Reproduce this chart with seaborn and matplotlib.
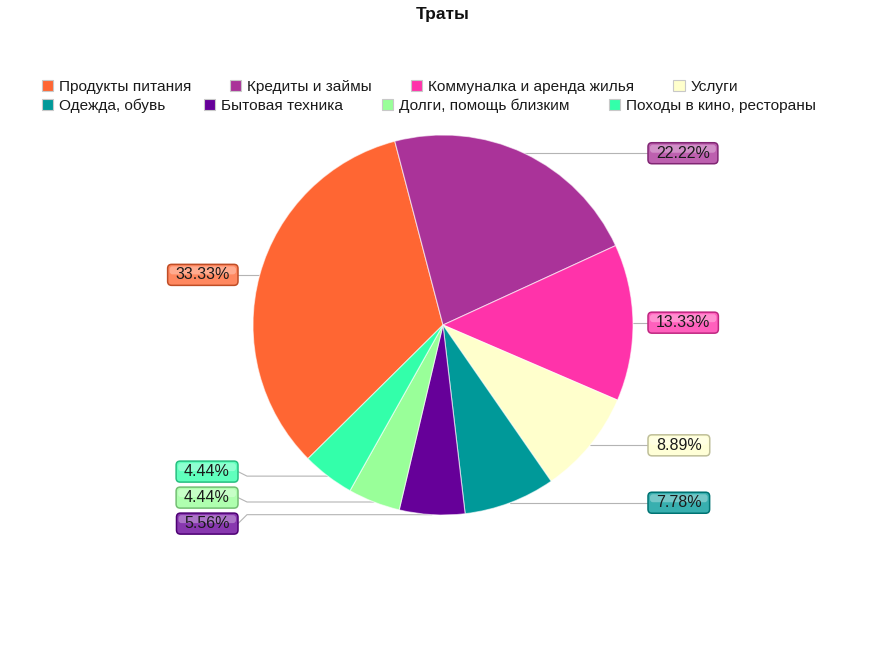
import numpy as np
import matplotlib
matplotlib.use("Agg")
import matplotlib.pyplot as plt
import matplotlib.colors as mcolors
from matplotlib.patches import Patch, FancyBboxPatch
import seaborn as sns

# ---- data ----
categories = ["Продукты питания", "Кредиты и займы", "Коммуналка и аренда жилья", "Услуги",
              "Одежда, обувь", "Бытовая техника", "Долги, помощь близким", "Походы в кино, рестораны"]
values = [33.33, 22.22, 13.33, 8.89, 7.78, 5.56, 4.44, 4.44]
colors = ["#FF6633", "#AA3399", "#FF33AA", "#FFFFCC", "#009999", "#660099", "#99FF99", "#33FFAA"]
title = "Траты"

sns.set_theme(style="white")
plt.rcParams["font.family"] = ["Liberation Sans", "DejaVu Sans"]

W, H = 885, 650
fig = plt.figure(figsize=(W / 100, H / 100), dpi=100)
ax = fig.add_axes([0, 0, 1, 1])
palette = sns.color_palette(colors)

cx, cy, R = 443, 325, 190
start = 224.7
wedges, _ = ax.pie(values, colors=palette, startangle=start, counterclock=False,
                   radius=R, center=(cx, cy),
                   wedgeprops=dict(edgecolor=(1, 1, 1, 0.6), linewidth=0.8))
ax.set_xlim(0, W)
ax.set_ylim(0, H)
ax.set_aspect("equal")
ax.axis("off")

# ---- labels ----
def mix(c, w, t):
    c = np.array(mcolors.to_rgb(c))
    return tuple(c * (1 - t) + np.array(w) * t)

anchors = []
for wdg in wedges:
    mid = np.deg2rad((wdg.theta1 + wdg.theta2) / 2)
    anchors.append((cx + R * np.cos(mid), cy + R * np.sin(mid)))

gap = 26
label_y = [a[1] for a in anchors]
for side in (1, -1):
    idx = [i for i, a in enumerate(anchors) if np.sign(a[0] - cx) == side]
    idx.sort(key=lambda i: -anchors[i][1])
    ys = [anchors[i][1] for i in idx]
    for _ in range(300):
        for k in range(1, len(ys)):
            d = ys[k - 1] - ys[k]
            if d < gap:
                s = (gap - d) / 2
                ys[k - 1] += s
                ys[k] -= s
    for i, y in zip(idx, ys):
        label_y[i] = y

renderer = fig.canvas.get_renderer()
fs_lab = 11.5
padx = 8
box_h = 21
for i, (v, c) in enumerate(zip(values, palette)):
    axp, ayp = anchors[i]
    ly = label_y[i]
    right = axp >= cx
    edge = cx + 205 if right else cx - 205
    bend = edge - 9 if right else edge + 9
    ax.plot([axp, bend, edge], [ayp, ayp, ly], color="#b4b4b4", lw=0.8, zorder=0)
    tx = edge + padx if right else edge - padx
    t = ax.text(tx, ly, f"{v:.2f}%", ha="left" if right else "right", va="center",
                fontsize=fs_lab, color="#1a1a1a", zorder=6)
    bb = t.get_window_extent(renderer=renderer)
    bw = bb.width + 2 * padx
    x0 = edge if right else edge - bw
    fill = mix(c, (1, 1, 1), 0.22)
    ec = tuple(np.array(mcolors.to_rgb(c)) * 0.75)
    box = FancyBboxPatch((x0, ly - box_h / 2), bw, box_h,
                         boxstyle="round,pad=0,rounding_size=4",
                         fc=fill, ec=ec, lw=1.1, zorder=4)
    ax.add_patch(box)
    hl = FancyBboxPatch((x0 + 2, ly + 0.5), bw - 4, box_h / 2 - 2.5,
                        boxstyle="round,pad=0,rounding_size=3",
                        fc=(1, 1, 1, 0.3), ec="none", zorder=5)
    ax.add_patch(hl)

# ---- legend ----
handles = [Patch(facecolor=c, edgecolor="#c8c8c8", linewidth=0.8) for c in palette]
fs_leg = 11.05
for row, ypx in [(0, 87), (1, 106)]:
    ids = list(range(row * 4, row * 4 + 4))
    fig.legend([handles[i] for i in ids], [categories[i] for i in ids],
               loc="center left", bbox_to_anchor=(41.7 / W, 1 - ypx / H),
               ncol=4, frameon=False, fontsize=fs_leg, handlelength=0.72,
               handleheight=0.72, handletextpad=0.4, columnspacing=2.54,
               borderpad=0, borderaxespad=0, labelcolor="#1a1a1a")

fig.text(443 / W, 1 - 14 / H, title, ha="center", va="center",
         fontsize=12.5, fontweight="bold", color="#111111")

fig.savefig("out.png", dpi=100)
